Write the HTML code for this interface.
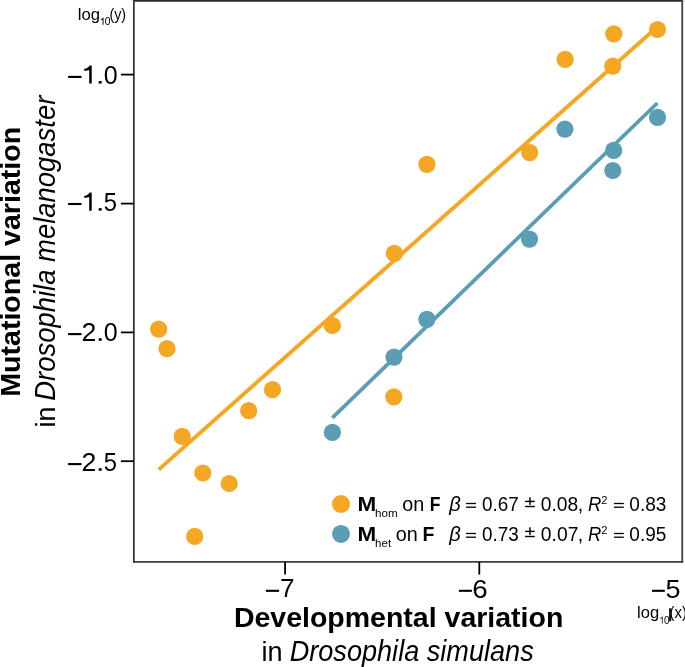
<!DOCTYPE html>
<html><head><meta charset="utf-8"><style>
html,body{margin:0;padding:0;background:#fff;}
body{width:685px;height:667px;overflow:hidden;}
#w{will-change:transform;width:685px;height:667px;}
svg{display:block;}
text{font-family:"Liberation Sans",sans-serif;fill:#000;}
</style></head><body>
<div id="w"><svg width="685" height="667" viewBox="0 0 685 667">
<rect x="0" y="0" width="685" height="667" fill="#fff"/>
<line x1="158.7" y1="469.6" x2="657.5" y2="26.7" stroke="#F5A623" stroke-width="3.9"/>
<line x1="332.3" y1="417.8" x2="657.4" y2="103" stroke="#5A9DB5" stroke-width="3.8"/>
<g fill="#F5A623"><circle cx="158.7" cy="329.2" r="8.6"/><circle cx="167" cy="348.7" r="8.6"/><circle cx="182.2" cy="436.4" r="8.6"/><circle cx="202.8" cy="473" r="8.6"/><circle cx="229.2" cy="483.5" r="8.6"/><circle cx="194.7" cy="536.4" r="8.6"/><circle cx="248.7" cy="410.7" r="8.6"/><circle cx="272.5" cy="389.7" r="8.6"/><circle cx="332.4" cy="325.5" r="8.6"/><circle cx="394.3" cy="253.4" r="8.6"/><circle cx="393.8" cy="396.8" r="8.6"/><circle cx="426.9" cy="164.3" r="8.6"/><circle cx="529.7" cy="152.6" r="8.6"/><circle cx="565.1" cy="59.4" r="8.6"/><circle cx="613.8" cy="33.9" r="8.6"/><circle cx="612.8" cy="66.1" r="8.6"/><circle cx="657.5" cy="29.5" r="8.6"/></g>
<g fill="#5A9DB5"><circle cx="332.4" cy="432.4" r="8.6"/><circle cx="394" cy="357.1" r="8.6"/><circle cx="426.9" cy="319.3" r="8.6"/><circle cx="529.5" cy="239.1" r="8.6"/><circle cx="564.9" cy="129.1" r="8.6"/><circle cx="613.7" cy="150.4" r="8.6"/><circle cx="612.8" cy="170.5" r="8.6"/><circle cx="657.5" cy="117.4" r="8.6"/></g>
<g fill="none" stroke-width="1.75" stroke-linecap="square"><line x1="133.85" y1="0.9" x2="682.25" y2="0.9" stroke="#2c2c2c"/><line x1="133.85" y1="0.9" x2="133.85" y2="561.95" stroke="#333"/><line x1="682.25" y1="0.9" x2="682.25" y2="561.95" stroke="#3e3e3e"/><line x1="133.85" y1="561.95" x2="682.25" y2="561.95" stroke="#3e3e3e"/></g>
<g stroke="#000" stroke-width="1.8">
<line x1="120.9" y1="74.6" x2="134" y2="74.6"/>
<line x1="120.9" y1="203.6" x2="134" y2="203.6"/>
<line x1="120.9" y1="332.4" x2="134" y2="332.4"/>
<line x1="120.9" y1="461.2" x2="134" y2="461.2"/>
<line x1="285.1" y1="562" x2="285.1" y2="574.6"/>
<line x1="479.3" y1="562" x2="479.3" y2="574.6"/>
</g>
<rect x="68.1" y="75.85" width="13.40" height="2.1" fill="#000"/>
<path transform="translate(89.2,65.40)" d="M 2.5 0 L 2.5 18.2 L 0 18.2 L 0 4.6 C -1 5.1 -2.7 5.4 -4.9 5.5 L -4.9 3.4 C -2.4 3.2 -0.6 2 0.4 0 Z" fill="#000"/>
<rect x="98.7" y="81.00" width="3.0" height="2.6" fill="#000"/>
<text x="103.82" y="83.6" font-size="26.3" textLength="13.96" lengthAdjust="spacingAndGlyphs">0</text>
<rect x="68.1" y="202.95" width="13.40" height="2.1" fill="#000"/>
<path transform="translate(89.2,192.50)" d="M 2.5 0 L 2.5 18.2 L 0 18.2 L 0 4.6 C -1 5.1 -2.7 5.4 -4.9 5.5 L -4.9 3.4 C -2.4 3.2 -0.6 2 0.4 0 Z" fill="#000"/>
<rect x="98.7" y="208.10" width="3.0" height="2.6" fill="#000"/>
<text x="103.85" y="210.7" font-size="26.3" textLength="13.26" lengthAdjust="spacingAndGlyphs">5</text>
<rect x="68.1" y="333.05" width="13.40" height="2.1" fill="#000"/>
<text x="81.55" y="340.8" font-size="26.3" textLength="14.89" lengthAdjust="spacingAndGlyphs">2</text>
<rect x="98.7" y="338.20" width="3.0" height="2.6" fill="#000"/>
<text x="103.82" y="340.8" font-size="26.3" textLength="13.96" lengthAdjust="spacingAndGlyphs">0</text>
<rect x="68.1" y="463.05" width="13.40" height="2.1" fill="#000"/>
<text x="81.55" y="470.8" font-size="26.3" textLength="14.89" lengthAdjust="spacingAndGlyphs">2</text>
<rect x="98.7" y="468.20" width="3.0" height="2.6" fill="#000"/>
<text x="103.85" y="470.8" font-size="26.3" textLength="13.26" lengthAdjust="spacingAndGlyphs">5</text>
<rect x="265.9" y="589.75" width="13.20" height="2.1" fill="#000"/>
<text x="280.06" y="597" font-size="26.3" textLength="14.56" lengthAdjust="spacingAndGlyphs">7</text>
<rect x="458.9" y="589.75" width="13.00" height="2.1" fill="#000"/>
<text x="472.29" y="597.6" font-size="26.3" textLength="15.43" lengthAdjust="spacingAndGlyphs">6</text>
<rect x="652" y="589.75" width="12.80" height="2.1" fill="#000"/>
<text x="665.52" y="597.6" font-size="26.3" textLength="15.01" lengthAdjust="spacingAndGlyphs">5</text>
<text x="77.87" y="19.6" font-size="15.6" textLength="22.30" lengthAdjust="spacingAndGlyphs">log</text>
<path transform="translate(102.57,17.85) scale(0.382)" d="M 2.5 0 L 2.5 18.2 L 0 18.2 L 0 4.6 C -1 5.1 -2.7 5.4 -4.9 5.5 L -4.9 3.4 C -2.4 3.2 -0.6 2 0.4 0 Z" fill="#000"/>
<text x="104.65" y="24.85" font-size="10.2" textLength="5.76" lengthAdjust="spacingAndGlyphs">0</text>
<text x="109.41" y="19.6" font-size="15.6" textLength="16.67" lengthAdjust="spacingAndGlyphs">(y)</text>
<text x="637.09" y="617.8" font-size="15.6" textLength="22.08" lengthAdjust="spacingAndGlyphs">log</text>
<path transform="translate(661.87,616.6) scale(0.382)" d="M 2.5 0 L 2.5 18.2 L 0 18.2 L 0 4.6 C -1 5.1 -2.7 5.4 -4.9 5.5 L -4.9 3.4 C -2.4 3.2 -0.6 2 0.4 0 Z" fill="#333"/>
<text x="664.01" y="623.5" font-size="10.2" textLength="5.58" lengthAdjust="spacingAndGlyphs">0</text>
<text x="669.47" y="617.8" font-size="15.6" textLength="17.46" lengthAdjust="spacingAndGlyphs">(x)</text>
<rect x="669.1" y="608.3" width="2.1" height="13" fill="#111"/>
<text x="233.89" y="627.1" font-size="28.5" font-weight="bold" textLength="329.47" lengthAdjust="spacingAndGlyphs">Developmental variation</text>
<text x="261.49" y="660.7" font-size="27.5" textLength="21.07" lengthAdjust="spacingAndGlyphs">in</text>
<text x="289.67" y="660.7" font-size="29" font-style="italic" textLength="244.09" lengthAdjust="spacingAndGlyphs">Drosophila simulans</text>
<g transform="rotate(-90)">
<text x="-396.81" y="20.4" font-size="28.5" font-weight="bold" textLength="269.98" lengthAdjust="spacingAndGlyphs">Mutational variation</text>
<text x="-427.39" y="54.5" font-size="27.5" textLength="20.83" lengthAdjust="spacingAndGlyphs">in</text>
<text x="-400.74" y="54.5" font-size="29" font-style="italic" textLength="305.02" lengthAdjust="spacingAndGlyphs">Drosophila melanogaster</text>
</g>
<circle cx="341" cy="504" r="9" fill="#F5A623"/>
<circle cx="341" cy="533.9" r="9" fill="#5A9DB5"/>
<text x="357.50" y="510.5" font-size="19.5" font-weight="bold" textLength="18.70" lengthAdjust="spacingAndGlyphs">M</text>
<text x="375.10" y="516.9" font-size="10.9" textLength="22.57" lengthAdjust="spacingAndGlyphs">hom</text>
<text x="402.37" y="510.5" font-size="19.5" textLength="22.02" lengthAdjust="spacingAndGlyphs">on</text>
<text x="429.63" y="510.5" font-size="19.5" font-weight="bold" textLength="10.72" lengthAdjust="spacingAndGlyphs">F</text>
<text x="449.29" y="510.5" font-size="19.5" font-style="italic" textLength="11.50" lengthAdjust="spacingAndGlyphs">β</text>
<rect x="466" y="502.85" width="10.00" height="1.3" fill="#000"/><rect x="466" y="506.55" width="10.00" height="1.3" fill="#000"/>
<text x="482.06" y="510.5" font-size="19.5" textLength="36.79" lengthAdjust="spacingAndGlyphs">0.67</text>
<rect x="525.1" y="500.70" width="9.70" height="1.4" fill="#000"/><rect x="525.1" y="505.80" width="9.70" height="1.4" fill="#000"/><rect x="529.23" y="497.30" width="1.45" height="7.6" fill="#000"/>
<text x="540.85" y="510.5" font-size="19.5" textLength="37.39" lengthAdjust="spacingAndGlyphs">0.08</text>
<text x="577.65" y="510.5" font-size="19.5">,</text>
<text x="588.03" y="510.5" font-size="19.5" font-style="italic" textLength="13.34" lengthAdjust="spacingAndGlyphs">R</text>
<text x="601.24" y="503.9" font-size="10.9" textLength="6.23" lengthAdjust="spacingAndGlyphs">2</text>
<rect x="614" y="502.85" width="9.80" height="1.3" fill="#000"/><rect x="614" y="506.55" width="9.80" height="1.3" fill="#000"/>
<text x="629.36" y="510.5" font-size="19.5" textLength="36.98" lengthAdjust="spacingAndGlyphs">0.83</text>
<text x="357.50" y="540.5" font-size="19.5" font-weight="bold" textLength="18.70" lengthAdjust="spacingAndGlyphs">M</text>
<text x="375.10" y="546.9" font-size="10.9" textLength="15.98" lengthAdjust="spacingAndGlyphs">het</text>
<text x="395.87" y="540.5" font-size="19.5" textLength="22.02" lengthAdjust="spacingAndGlyphs">on</text>
<text x="422.59" y="540.5" font-size="19.5" font-weight="bold" textLength="11.92" lengthAdjust="spacingAndGlyphs">F</text>
<text x="449.29" y="540.5" font-size="19.5" font-style="italic" textLength="11.50" lengthAdjust="spacingAndGlyphs">β</text>
<rect x="466" y="532.85" width="10.00" height="1.3" fill="#000"/><rect x="466" y="536.55" width="10.00" height="1.3" fill="#000"/>
<text x="482.06" y="540.5" font-size="19.5" textLength="36.66" lengthAdjust="spacingAndGlyphs">0.73</text>
<rect x="525.1" y="530.70" width="9.70" height="1.4" fill="#000"/><rect x="525.1" y="535.80" width="9.70" height="1.4" fill="#000"/><rect x="529.23" y="527.30" width="1.45" height="7.6" fill="#000"/>
<text x="540.85" y="540.5" font-size="19.5" textLength="37.52" lengthAdjust="spacingAndGlyphs">0.07</text>
<text x="577.65" y="540.5" font-size="19.5">,</text>
<text x="588.03" y="540.5" font-size="19.5" font-style="italic" textLength="13.34" lengthAdjust="spacingAndGlyphs">R</text>
<text x="601.24" y="533.9" font-size="10.9" textLength="6.23" lengthAdjust="spacingAndGlyphs">2</text>
<rect x="614" y="532.85" width="9.80" height="1.3" fill="#000"/><rect x="614" y="536.55" width="9.80" height="1.3" fill="#000"/>
<text x="629.36" y="540.5" font-size="19.5" textLength="36.94" lengthAdjust="spacingAndGlyphs">0.95</text>
</svg></div>
</body></html>
